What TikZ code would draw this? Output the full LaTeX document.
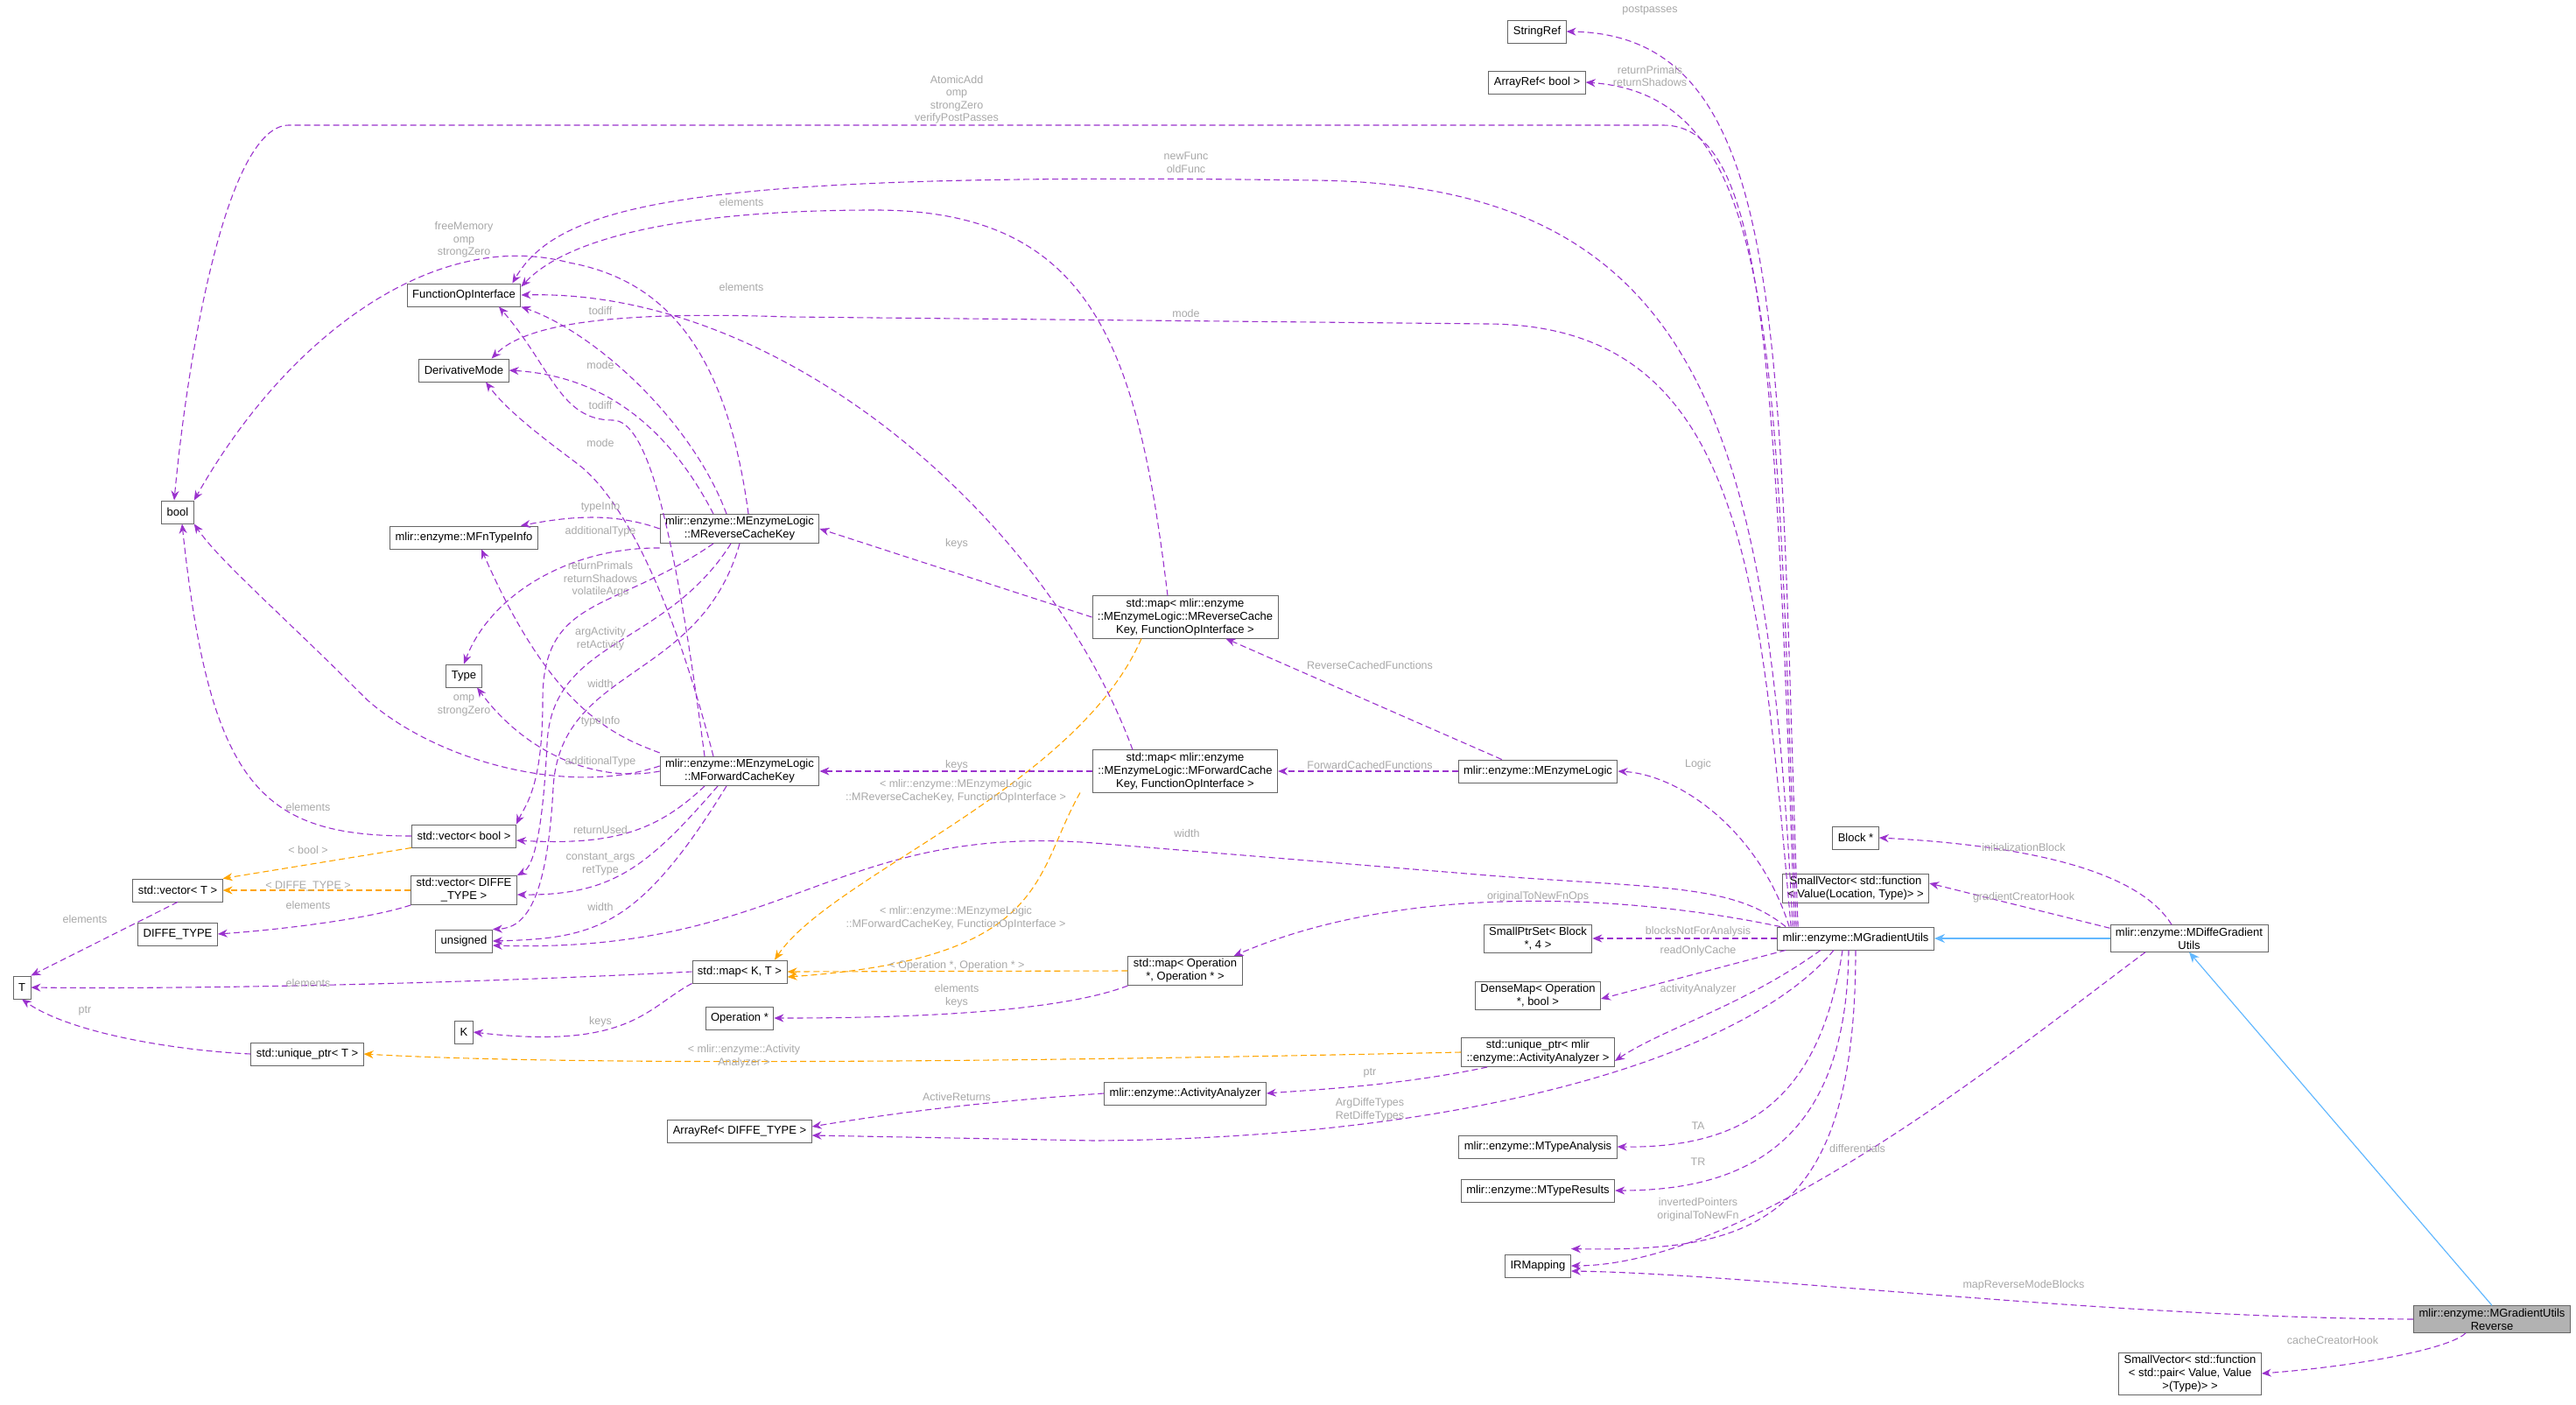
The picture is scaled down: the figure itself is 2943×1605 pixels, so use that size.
\documentclass[tikz,border=0pt]{standalone}
\usepackage{fontspec}
\setmainfont{Liberation Sans}
\usetikzlibrary{arrows.meta}
\definecolor{pu}{HTML}{9A32CD}
\definecolor{og}{HTML}{FFA500}
\definecolor{bl}{HTML}{63B8FF}
\definecolor{lg}{HTML}{A8A8A8}
\begin{document}
\begin{tikzpicture}[x=1pt,y=-1pt,
 box/.style={draw=gray!80!black,line width=0.9pt,fill=white,inner xsep=6pt,inner ysep=3pt,font=\fontsize{13}{15}\selectfont,align=center,minimum height=26pt},
 lbl/.style={text=lg,font=\fontsize{12.5}{14.5}\selectfont,align=center,inner sep=0pt},
 e/.style={draw=pu,line width=1.1pt,dash pattern=on 7pt off 4pt,-{Stealth[length=11pt,width=9pt]}},
 o/.style={draw=og,line width=1.1pt,dash pattern=on 7pt off 4pt,-{Stealth[length=11pt,width=9pt]}},
 inh/.style={draw=bl,line width=1.2pt,-{Stealth[length=12pt,width=10pt]}}]
\useasboundingbox (0,0) rectangle (2943,1605);
% nodes
\node[box] (SR) at (1756,36) {StringRef};
\node[box] (AB) at (1756,94) {ArrayRef< bool >};
\node[box] (FOI) at (530,337) {FunctionOpInterface};
\node[box] (DM) at (530,423) {DerivativeMode};
\node[box] (bool) at (203,585) {bool};
\node[box] (MFn) at (530,614) {mlir::enzyme::MFnTypeInfo};
\node[box] (RK) at (845,604) {mlir::enzyme::MEnzymeLogic\\::MReverseCacheKey};
\node[box] (Ty) at (530,772) {Type};
\node[box] (FK) at (845,881) {mlir::enzyme::MEnzymeLogic\\::MForwardCacheKey};
\node[box] (vb) at (530,955) {std::vector< bool >};
\node[box] (vT) at (203,1017) {std::vector< T >};
\node[box] (vd) at (530,1017) {std::vector< DIFFE\\\_TYPE >};
\node[box] (DT) at (203,1067) {DIFFE\_TYPE};
\node[box] (un) at (530,1075) {unsigned};
\node[box] (T) at (25,1128) {T};
\node[box] (mKT) at (845,1110) {std::map< K, T >};
\node[box] (Op) at (845,1163) {Operation *};
\node[box] (K) at (530,1179) {K};
\node[box] (uT) at (351,1204) {std::unique\_ptr< T >};
\node[box] (AD) at (845,1292) {ArrayRef< DIFFE\_TYPE >};
\node[box] (MR) at (1354,705) {std::map< mlir::enzyme\\::MEnzymeLogic::MReverseCache\\Key, FunctionOpInterface >};
\node[box] (MF) at (1354,881) {std::map< mlir::enzyme\\::MEnzymeLogic::MForwardCache\\Key, FunctionOpInterface >};
\node[box] (L) at (1757,881) {mlir::enzyme::MEnzymeLogic};
\node[box] (Bk) at (2120,957) {Block *};
\node[box] (SVV) at (2120,1015) {SmallVector< std::function\\< Value(Location, Type)> >};
\node[box] (G) at (2120,1072) {mlir::enzyme::MGradientUtils};
\node[box] (SPS) at (1757,1072) {SmallPtrSet< Block\\ *, 4 >};
\node[box] (mOp) at (1354,1109) {std::map< Operation\\ *, Operation * >};
\node[box] (DMp) at (1757,1137) {DenseMap< Operation\\ *, bool >};
\node[box] (uAA) at (1757,1202) {std::unique\_ptr< mlir\\::enzyme::ActivityAnalyzer >};
\node[box] (AA) at (1354,1249) {mlir::enzyme::ActivityAnalyzer};
\node[box] (TA) at (1757,1310) {mlir::enzyme::MTypeAnalysis};
\node[box] (TR) at (1757,1360) {mlir::enzyme::MTypeResults};
\node[box] (IR) at (1757,1446) {IRMapping};
\node[box] (D) at (2501,1072) {mlir::enzyme::MDiffeGradient\\Utils};
\node[box,fill=gray!60] (R) at (2847,1507) {mlir::enzyme::MGradientUtils\\Reverse};
\node[box] (SVP) at (2502,1569) {SmallVector< std::function\\< std::pair< Value, Value\\ >(Type)> >};
% inheritance
\draw[inh] (D) -- (G);
\draw[inh] (R.north) -- (D.south);
% G edges (leave from the top-left corner, climb at x ~ 2025-2040)
\draw[e] ([xshift=24]G.north west) .. controls (2030,400) and (2050,40) .. (SR.east);
\draw[e] ([xshift=22]G.north west) .. controls (2028,400) and (2035,110) .. (AB.east);
\draw[e] ([xshift=20]G.north west) .. controls (2028,400) and (2015,143) .. (1900,143) -- (330,143) .. controls (260,143) and (215,400) .. ([xshift=-4]bool.north);
\draw[e] ([xshift=18]G.north west) .. controls (2020,500) and (1950,210) .. (1500,206) .. controls (800,196) and (640,230) .. ([xshift=-10]FOI.north east);
\draw[e] ([xshift=16]G.north west) .. controls (2010,650) and (1990,372) .. (1700,370) -- (900,362) .. controls (700,355) and (600,370) .. ([xshift=-20]DM.north east);
\draw[e] ([xshift=14]G.north west) .. controls (2010,950) and (1920,885) .. (L.east);
\draw[e] ([xshift=10]G.north west) .. controls (1980,1010) and (1900,1015) .. (1700,1000) -- (1250,963) .. controls (950,940) and (900,1090) .. ([yshift=-5]un.east);
\draw[e] ([xshift=4]G.north west) .. controls (1850,1020) and (1600,1010) .. ([xshift=-10]mOp.north east);
\draw[e] (G.west) -- (SPS.east);
\draw[e] ([xshift=10]G.south west) -- ([yshift=-4]DMp.east);
\draw[e] ([xshift=-40]G.south) .. controls (1990,1150) and (1900,1175) .. ([yshift=-10]uAA.east);
\draw[e] ([xshift=-25]G.south) .. controls (2000,1200) and (1700,1300) .. (1250,1303) -- ([yshift=-5]AD.east);
\draw[e] ([xshift=-15]G.south) .. controls (2080,1250) and (2000,1312) .. (TA.east);
\draw[e] ([xshift=-8]G.south) .. controls (2110,1300) and (2000,1360) .. (TR.east);
\draw[e] (G.south) .. controls (2120,1400) and (2000,1430) .. ([yshift=6]IR.north east);
\draw[e] ([xshift=-50]D.south) .. controls (2300,1200) and (2000,1445) .. (IR.east);
\draw[e] (R.west) .. controls (2400,1505) and (2000,1455) .. ([yshift=-6]IR.east);
\draw[e] ([xshift=-30]R.south) .. controls (2800,1540) and (2700,1560) .. (SVP.east);
\draw[e] ([xshift=-20]D.north) .. controls (2440,990) and (2300,965) .. (Bk.east);
\draw[e] ([yshift=-4]D.north west) -- ([yshift=6]SVV.east);
% L edges
\draw[e] ([xshift=50]L.north west) -- ([xshift=-60]MR.south east);
\draw[e] (L.west) -- (MF.east);
% MR / MF edges
\draw[e] (MR.west) -- (RK.east);
\draw[e] ([xshift=-20]MR.north) .. controls (1300,400) and (1250,240) .. (1000,240) .. controls (750,240) and (640,280) .. ([yshift=-4]FOI.north east);
\draw[o] ([xshift=-50]MR.south) .. controls (1230,900) and (950,1000) .. ([xshift=40]mKT.north);
\draw[e] (MF.west) -- (FK.east);
\draw[e] ([xshift=-60]MF.north) .. controls (1200,600) and (900,330) .. (FOI.east);
\draw[o] ([xshift=-120]MF.south) .. controls (1180,1000) and (1200,1095) .. ([yshift=-6]mKT.east);
% RK edges
\draw[e] ([xshift=-15]RK.north) .. controls (790,480) and (680,380) .. (FOI.south east);
\draw[e] ([xshift=-30]RK.north) .. controls (770,500) and (700,430) .. (DM.east);
\draw[e] (RK.west) .. controls (700,585) and (650,590) .. ([xshift=-20]MFn.north east);
\draw[e] ([yshift=-5]RK.south west) .. controls (650,625) and (560,680) .. (Ty.north);
\draw[e] ([xshift=-30]RK.south) .. controls (700,700) and (620,680) .. (620,800) .. controls (620,900) and (600,920) .. (vb.north east);
\draw[e] ([xshift=-10]RK.south) .. controls (760,740) and (630,730) .. (625,850) .. controls (620,950) and (610,990) .. (vd.north east);
\draw[e] (RK.south) .. controls (800,780) and (640,760) .. (632,900) .. controls (625,1030) and (600,1060) .. (un.north east);
\draw[e] ([xshift=10]RK.north) .. controls (830,400) and (760,320) .. (650,300) .. controls (500,260) and (330,380) .. (bool.north east);
% FK edges
\draw[e] ([xshift=-40]FK.north) .. controls (770,600) and (740,480) .. (700,480) .. controls (640,480) and (630,420) .. ([xshift=40]FOI.south);
\draw[e] ([xshift=-30]FK.north) .. controls (760,650) and (700,560) .. (660,530) .. controls (620,500) and (580,470) .. ([xshift=25]DM.south);
\draw[e] ([yshift=4]FK.north west) .. controls (700,840) and (630,810) .. ([xshift=20]MFn.south);
\draw[e] (FK.west) .. controls (680,895) and (600,860) .. ([xshift=15]Ty.south);
\draw[e] ([yshift=6]FK.west) .. controls (650,910) and (500,870) .. (420,800) .. controls (320,700) and (250,640) .. (bool.south east);
\draw[e] ([xshift=-40]FK.south) .. controls (750,950) and (700,966) .. ([yshift=-5]vb.east);
\draw[e] ([xshift=-25]FK.south) .. controls (740,990) and (700,1023) .. ([yshift=-5]vd.east);
\draw[e] ([xshift=-15]FK.south) .. controls (730,1060) and (680,1072) .. (un.east);
% others
\draw[e] (vb.west) .. controls (300,955) and (240,900) .. ([xshift=5]bool.south);
\draw[o] (vb.south west) -- (vT.north east);
\draw[o] (vd.west) -- (vT.east);
\draw[e] (vd.south west) .. controls (420,1050) and (320,1062) .. (DT.east);
\draw[e] (vT.south) -- (T.north east);
\draw[e] (mKT.west) .. controls (500,1125) and (200,1130) .. (T.east);
\draw[e] (mKT.south west) .. controls (740,1150) and (720,1200) .. (K.east);
\draw[o] (mOp.west) -- (mKT.east);
\draw[e] (mOp.south west) .. controls (1200,1160) and (1000,1163) .. (Op.east);
\draw[e] (uT.west) .. controls (200,1200) and (80,1180) .. (T.south);
\draw[o] (uAA.west) .. controls (1300,1210) and (700,1220) .. (uT.east);
\draw[e] ([xshift=30]uAA.south west) .. controls (1600,1240) and (1500,1245) .. (AA.east);
\draw[e] (AA.west) .. controls (1100,1260) and (1000,1275) .. ([yshift=5]AD.east);
% labels
\node[lbl] (l1) at (1885,12) {postpasses};
\node[lbl] (l2) at (1885,87) {returnPrimals\\returnShadows};
\node[lbl] (l3) at (1093,114) {AtomicAdd\\omp\\strongZero\\verifyPostPasses};
\node[lbl] (l4) at (1355,186) {newFunc\\oldFunc};
\node[lbl] (l5) at (1355,358) {mode};
\node[lbl] (l6) at (1940,873) {Logic};
\node[lbl] (l7) at (1356,952) {width};
\node[lbl] (l8) at (1757,1024) {originalToNewFnOps};
\node[lbl] (l9) at (1940,1064) {blocksNotForAnalysis};
\node[lbl] (l10) at (1940,1086) {readOnlyCache};
\node[lbl] (l11) at (1940,1130) {activityAnalyzer};
\node[lbl] (l12) at (1565,1268) {ArgDiffeTypes\\RetDiffeTypes};
\node[lbl] (l13) at (1940,1286) {TA};
\node[lbl] (l14) at (1940,1327) {TR};
\node[lbl] (l15) at (1940,1382) {invertedPointers\\originalToNewFn};
\node[lbl] (l16) at (2122,1312) {differentials};
\node[lbl] (l17) at (2312,1468) {mapReverseModeBlocks};
\node[lbl] (l18) at (2665,1531) {cacheCreatorHook};
\node[lbl] (l19) at (2312,968) {initializationBlock};
\node[lbl] (l20) at (2312,1025) {gradientCreatorHook};
\node[lbl] (l21) at (1565,760) {ReverseCachedFunctions};
\node[lbl] (l22) at (1565,874) {ForwardCachedFunctions};
\node[lbl] (l23) at (1093,621) {keys};
\node[lbl] (l24) at (847,231) {elements};
\node[lbl] (l25) at (1092,904) {< mlir::enzyme::MEnzymeLogic\\::MReverseCacheKey, FunctionOpInterface >};
\node[lbl] (l26) at (1093,874) {keys};
\node[lbl] (l27) at (847,328) {elements};
\node[lbl] (l28) at (1092,1049) {< mlir::enzyme::MEnzymeLogic\\::MForwardCacheKey, FunctionOpInterface >};
\node[lbl] (l29) at (686,355) {todiff};
\node[lbl] (l30) at (686,417) {mode};
\node[lbl] (l31) at (686,579) {typeInfo};
\node[lbl] (l32) at (686,607) {additionalType};
\node[lbl] (l33) at (686,662) {returnPrimals\\returnShadows\\volatileArgs};
\node[lbl] (l34) at (686,730) {argActivity\\retActivity};
\node[lbl] (l35) at (686,781) {width};
\node[lbl] (l36) at (530,274) {freeMemory\\omp\\strongZero};
\node[lbl] (l37) at (686,463) {todiff};
\node[lbl] (l38) at (686,506) {mode};
\node[lbl] (l39) at (686,824) {typeInfo};
\node[lbl] (l40) at (686,870) {additionalType};
\node[lbl] (l41) at (530,806) {omp\\strongZero};
\node[lbl] (l42) at (686,948) {returnUsed};
\node[lbl] (l43) at (686,987) {constant\_args\\retType};
\node[lbl] (l44) at (686,1036) {width};
\node[lbl] (l45) at (352,922) {elements};
\node[lbl] (l46) at (352,971) {< bool >};
\node[lbl] (l47) at (352,1012) {< DIFFE\_TYPE >};
\node[lbl] (l48) at (352,1034) {elements};
\node[lbl] (l49) at (97,1050) {elements};
\node[lbl] (l50) at (352,1123) {elements};
\node[lbl] (l51) at (686,1167) {keys};
\node[lbl] (l52) at (1093,1103) {< Operation *, Operation * >};
\node[lbl] (l53) at (1093,1138) {elements\\keys};
\node[lbl] (l54) at (97,1155) {ptr};
\node[lbl] (l55) at (850,1207) {< mlir::enzyme::Activity\\Analyzer >};
\node[lbl] (l56) at (1565,1226) {ptr};
\node[lbl] (l57) at (1093,1253) {ActiveReturns};
\end{tikzpicture}
\end{document}
